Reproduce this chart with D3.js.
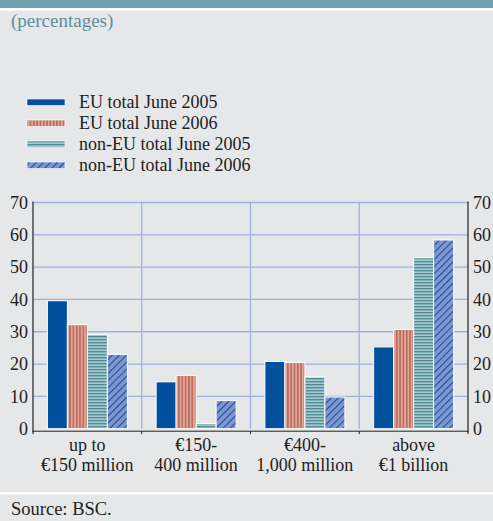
<!DOCTYPE html>
<html><head><meta charset="utf-8">
<script src="https://cdn.jsdelivr.net/npm/d3@7"></script>
<style>body{margin:0;background:#e6e7e8;}svg{display:block;}</style>
</head><body>
<script>
const categories = [["up to","€150 million"],["€150-","400 million"],["€400-","1,000 million"],["above","€1 billion"]];
const seriesNames = ["EU total June 2005","EU total June 2006","non-EU total June 2005","non-EU total June 2006"];
const euJune2005 = [39.6, 14.5, 20.8, 25.3];
const euJune2006 = [32.2, 16.5, 20.5, 30.7];
const nonEuJune2005 = [29.2, 1.6, 16.0, 52.9];
const nonEuJune2006 = [23.0, 8.7, 9.8, 58.4];
const yTicks = [0,10,20,30,40,50,60,70];
const seriesValues = [euJune2005, euJune2006, nonEuJune2005, nonEuJune2006];

const W=493,H=521;
const svg=d3.select("body").append("svg").attr("width",W).attr("height",H);
const font="'Liberation Serif', 'Times New Roman', serif";
const defs=svg.append("defs");
// patterns
const p1=defs.append("pattern").attr("id","pv").attr("patternUnits","userSpaceOnUse").attr("width",3.3).attr("height",4);
p1.append("rect").attr("width",3.3).attr("height",4).attr("fill","#dba99b");
p1.append("rect").attr("width",1.6).attr("height",4).attr("fill","#c0695b");
const p2=defs.append("pattern").attr("id","ph").attr("patternUnits","userSpaceOnUse").attr("width",4).attr("height",3);
p2.append("rect").attr("width",4).attr("height",3).attr("fill","#a9c8cd");
p2.append("rect").attr("width",4).attr("height",1.4).attr("fill","#4f8e99");
const p3=defs.append("pattern").attr("id","pd").attr("patternUnits","userSpaceOnUse").attr("width",5).attr("height",5).attr("patternTransform","rotate(45)");
p3.append("rect").attr("width",5).attr("height",5).attr("fill","#7e97cf");
p3.append("rect").attr("width",1.1).attr("height",5).attr("fill","#1f4fa2");
const fills=["#00509e","url(#pv)","url(#ph)","url(#pd)"];

// frame
svg.append("rect").attr("x",0).attr("y",0).attr("width",W).attr("height",8).attr("fill","#729fae");
svg.append("rect").attr("x",0).attr("y",8).attr("width",W).attr("height",2.5).attr("fill","#ffffff");
svg.append("rect").attr("x",0).attr("y",492).attr("width",W).attr("height",2.5).attr("fill","#ffffff");
svg.append("text").attr("x",11).attr("y",27).attr("font-family",font).attr("font-size",19).attr("fill","#5e8e9e").text("(percentages)");
svg.append("text").attr("x",11).attr("y",515).attr("font-family",font).attr("font-size",18.5).attr("fill","#222").text("Source: BSC.");

// legend
const lg=svg.append("g");
seriesNames.forEach((n,i)=>{
  const ly=102+i*21;
  lg.append("rect").attr("x",27).attr("y",ly-3).attr("width",38).attr("height",6.5).attr("fill",fills[i]).attr("stroke","#fff").attr("stroke-width",0.6);
  lg.append("text").attr("x",79).attr("y",ly+5.5).attr("font-family",font).attr("font-size",18).attr("fill","#222").text(n);
});

const pLeft=33,pRight=468,pTop=202.5,pBottom=428.7;
const x=d3.scaleBand().domain(d3.range(categories.length)).range([pLeft,pRight]).paddingInner(0).paddingOuter(0);
const y=d3.scaleLinear().domain([0,70]).range([pBottom,pTop]);
const xs=d3.scaleBand().domain(d3.range(4)).range([0,80]);
const grid="#9fb1e0";
// horizontal grid
svg.append("g").selectAll("line").data(yTicks.filter(d=>d>0)).join("line")
  .attr("x1",pLeft).attr("x2",pRight).attr("y1",d=>y(d)).attr("y2",d=>y(d)).attr("stroke",grid).attr("stroke-width",1.3);
// vertical separators
svg.append("g").selectAll("line").data(d3.range(1,categories.length)).join("line")
  .attr("x1",d=>x(d)).attr("x2",d=>x(d)).attr("y1",pTop).attr("y2",pBottom).attr("stroke",grid).attr("stroke-width",1.3);
// bars
const gb=svg.append("g");
categories.forEach((c,ci)=>{
  const off=x(ci)+x.bandwidth()/2-40;
  seriesValues.forEach((vals,si)=>{
    gb.append("rect").attr("x",off+xs(si)).attr("y",y(vals[ci])).attr("width",xs.bandwidth()).attr("height",pBottom-y(vals[ci]))
      .attr("fill",fills[si]).attr("stroke","#fff").attr("stroke-width",1);
  });
});
// axes
const yl=d3.axisLeft(y).tickValues(yTicks).tickSize(0).tickPadding(5);
const yr=d3.axisRight(y).tickValues(yTicks).tickSize(0).tickPadding(5);
const gl=svg.append("g").attr("transform",`translate(${pLeft},0)`).call(yl);
const gr=svg.append("g").attr("transform",`translate(${pRight},0)`).call(yr);
[gl,gr].forEach(g=>{
  g.select(".domain").remove();
  g.selectAll("text").attr("font-family",font).attr("font-size",18).attr("fill","#222");
});
svg.append("line").attr("x1",pLeft).attr("x2",pLeft).attr("y1",pTop-1).attr("y2",pBottom+3.5).attr("stroke","#222").attr("stroke-width",1.2);
svg.append("line").attr("x1",pRight).attr("x2",pRight).attr("y1",pTop-1).attr("y2",pBottom+3.5).attr("stroke","#222").attr("stroke-width",1.2);
// x axis line
const xb=pBottom+2.5;
svg.append("line").attr("x1",pLeft).attr("x2",pRight).attr("y1",xb).attr("y2",xb).attr("stroke","#222").attr("stroke-width",1);
svg.append("g").selectAll("line").data(d3.range(0,categories.length+1)).join("line")
  .attr("x1",d=>d<categories.length?x(d):pRight).attr("x2",d=>d<categories.length?x(d):pRight)
  .attr("y1",xb).attr("y2",xb+3).attr("stroke","#222").attr("stroke-width",1);
// category labels
const gc=svg.append("g");
categories.forEach((c,ci)=>{
  const t=gc.append("text").attr("text-anchor","middle").attr("font-family",font).attr("font-size",18).attr("fill","#222");
  c.forEach((line,li)=>t.append("tspan").attr("x",x(ci)+x.bandwidth()/2).attr("y",451+li*20).text(line));
});
</script>
</body></html>
